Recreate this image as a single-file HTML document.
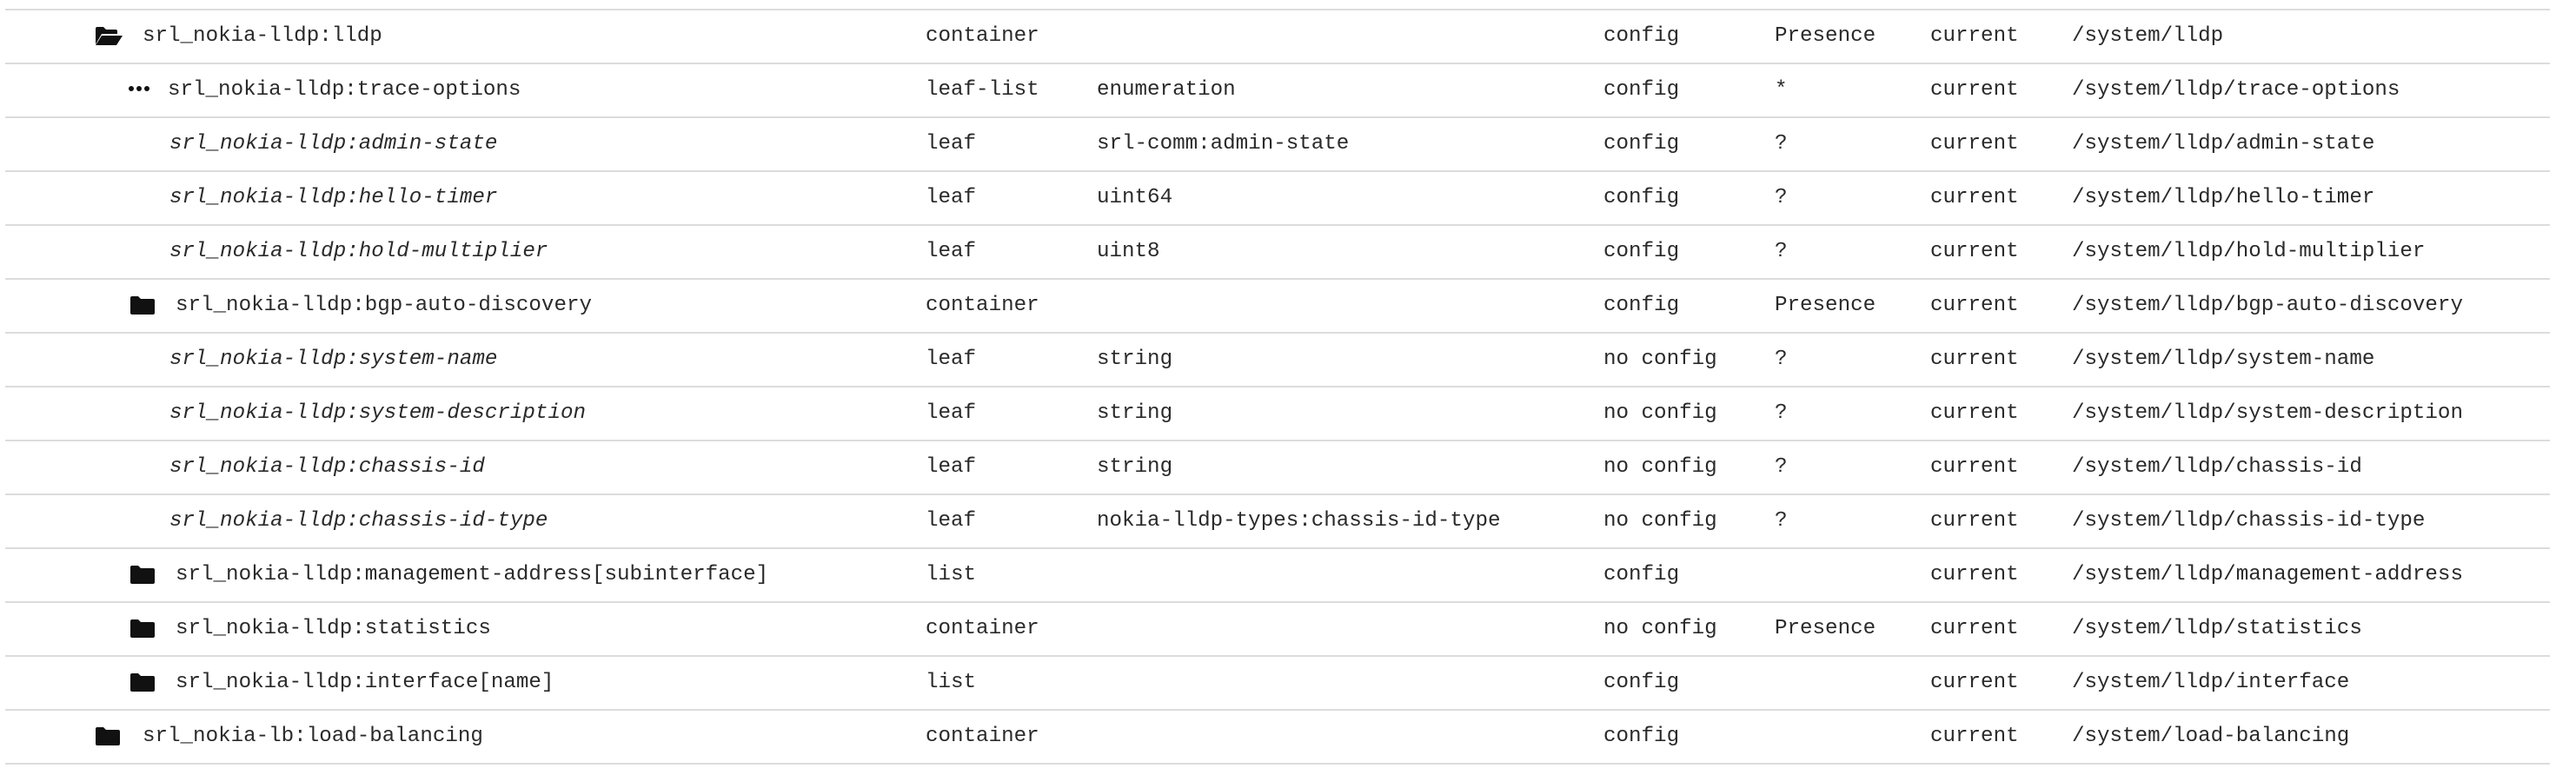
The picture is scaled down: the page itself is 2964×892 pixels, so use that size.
<!DOCTYPE html>
<html><head><meta charset="utf-8"><style>
body{margin:0;width:2964px;height:892px;background:#fff;position:relative;overflow:hidden;font-family:"Liberation Mono",monospace;font-size:24.2px;color:#2a2a2a}
.l{position:absolute;left:6px;width:2928px;height:2px;background:#dcdcdc}
.t{position:absolute;white-space:pre;line-height:30px}
i{font-style:italic}
svg{position:absolute}
</style></head><body>
<div id="c"></div>
<script>
const rows=[
[0,'open','srl_nokia-lldp:lldp',0,'container','','config','Presence','current','/system/lldp'],
[1,'dots','srl_nokia-lldp:trace-options',0,'leaf-list','enumeration','config','*','current','/system/lldp/trace-options'],
[2,'','srl_nokia-lldp:admin-state',1,'leaf','srl-comm:admin-state','config','?','current','/system/lldp/admin-state'],
[2,'','srl_nokia-lldp:hello-timer',1,'leaf','uint64','config','?','current','/system/lldp/hello-timer'],
[2,'','srl_nokia-lldp:hold-multiplier',1,'leaf','uint8','config','?','current','/system/lldp/hold-multiplier'],
[1,'fold','srl_nokia-lldp:bgp-auto-discovery',0,'container','','config','Presence','current','/system/lldp/bgp-auto-discovery'],
[2,'','srl_nokia-lldp:system-name',1,'leaf','string','no config','?','current','/system/lldp/system-name'],
[2,'','srl_nokia-lldp:system-description',1,'leaf','string','no config','?','current','/system/lldp/system-description'],
[2,'','srl_nokia-lldp:chassis-id',1,'leaf','string','no config','?','current','/system/lldp/chassis-id'],
[2,'','srl_nokia-lldp:chassis-id-type',1,'leaf','nokia-lldp-types:chassis-id-type','no config','?','current','/system/lldp/chassis-id-type'],
[1,'fold','srl_nokia-lldp:management-address[subinterface]',0,'list','','config','','current','/system/lldp/management-address'],
[1,'fold','srl_nokia-lldp:statistics',0,'container','','no config','Presence','current','/system/lldp/statistics'],
[1,'fold','srl_nokia-lldp:interface[name]',0,'list','','config','','current','/system/lldp/interface'],
[0,'fold','srl_nokia-lb:load-balancing',0,'container','','config','','current','/system/load-balancing']];
let h='';
const P=62,T=11;
for(let k=0;k<=14;k++)h+=`<div class="l" style="top:${T+P*k-1}px"></div>`;
const folder='<path d="M1 4 Q1 2 3 2 H10 L13 5 H27 Q29 5 29 7 V21 Q29 23 27 23 H3 Q1 23 1 21Z" fill="#111"/>';
const open='<path d="M1 4 Q1 2 3 2 H10 L13 5 H24 Q26 5 26 7 V10 H8 L1 22Z" fill="#111"/><path d="M8 12 H32 L25 23 H1Z" fill="#111"/>';
rows.forEach((r,k)=>{
 const cy=T+P*k+P/2, ty=cy-15;
 const [lv,ic,name,it,a,b,c,d,e,f]=r;
 let tx;
 if(lv===0){tx=164;}
 else if(lv===1){tx=ic==='dots'?193:202;}
 else tx=195;
 if(ic==='open')h+=`<svg style="left:109px;top:${cy-13}px" width="34" height="26">${open}</svg>`;
 if(ic==='fold'){const ix=lv===0?109:149;h+=`<svg style="left:${ix}px;top:${cy-13}px" width="32" height="26">${folder}</svg>`;}
 if(ic==='dots')h+=`<svg style="left:147px;top:${cy-6}px" width="40" height="10"><circle cx="4" cy="4" r="3" fill="#111"/><circle cx="13" cy="4" r="3" fill="#111"/><circle cx="22" cy="4" r="3" fill="#111"/></svg>`;
 h+=`<div class="t" style="left:${tx}px;top:${ty}px">${it?'<i>'+name+'</i>':name}</div>`;
 [[1065,a],[1262,b],[1845,c],[2042,d],[2221,e],[2384,f]].forEach(([x,s])=>{if(s)h+=`<div class="t" style="left:${x}px;top:${ty}px">${s}</div>`});
});
document.getElementById('c').innerHTML=h;
</script>
</body></html>
